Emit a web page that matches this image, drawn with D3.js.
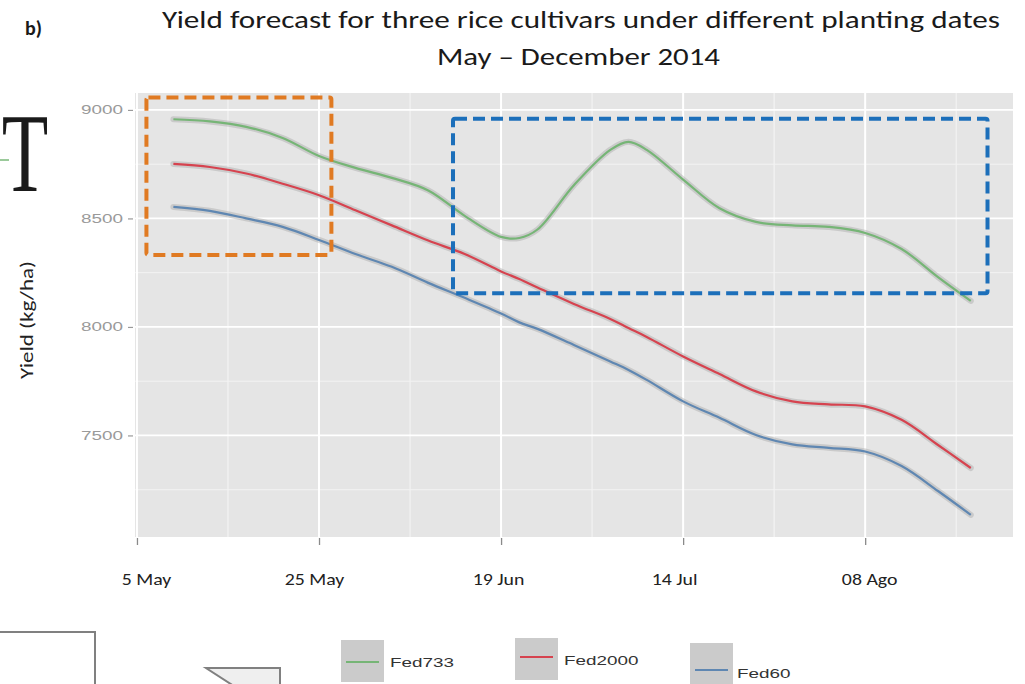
<!DOCTYPE html>
<html>
<head>
<meta charset="utf-8">
<script src="https://cdn.jsdelivr.net/npm/d3@7"></script>
<style>
  html, body { margin: 0; padding: 0; background: #ffffff; }
  svg { display: block; }
</style>
</head>
<body>
<svg id="chart" width="1025" height="684"></svg>
<script>
// ---------------- DATA ----------------
const titleLine1 = "Yield forecast for three rice cultivars under different planting dates";
const titleLine2 = "May \u2013 December 2014";
const panelTag = "b)";
const yAxisTitle = "Yield (kg/ha)";

// planting position (days after first label, axis units)
const plantingDay = [5, 10, 15, 20, 25, 30, 35, 40, 45, 50, 52.5, 55, 60, 65, 67.5, 70, 75, 80, 85, 90, 95, 100, 105, 110, 114.5];
const fed733  = [8957, 8947, 8922, 8871, 8788, 8733, 8687, 8629, 8512, 8415, 8410, 8449, 8653, 8816, 8853, 8816, 8679, 8547, 8484, 8468, 8461, 8433, 8359, 8230, 8120];
const fed2000 = [8751, 8737, 8707, 8660, 8607, 8538, 8468, 8398, 8336, 8256, 8221, 8182, 8106, 8037, 7995, 7954, 7864, 7783, 7703, 7657, 7643, 7634, 7572, 7456, 7350];
const fed60   = [8553, 8535, 8500, 8461, 8401, 8336, 8277, 8203, 8134, 8062, 8021, 7991, 7917, 7841, 7802, 7756, 7657, 7581, 7502, 7459, 7443, 7426, 7359, 7244, 7134];

const seriesNames = ["Fed733", "Fed2000", "Fed60"];
const xTickDays = [0, 25, 50, 75, 100];
const xTickLabels = ["5 May", "25 May", "19 Jun", "14 Jul", "08 Ago"];
const yTickValues = [7500, 8000, 8500, 9000];

// highlighted regions (axis units)
const orangeBox = { x0: 1.3, x1: 26.7, y0: 8332, y1: 9057 };
const blueBox   = { x0: 43.4, x1: 116.8, y0: 8155, y1: 8959 };

// ---------------- STYLE / LAYOUT ----------------
const colors = { Fed733: "#76b576", Fed2000: "#d6434f", Fed60: "#5f87b2" };
const panel = { left: 135, right: 1013, top: 93, bottom: 537 };
const xLabelNudge = [9, -5, -3, -9, 4];
const legendLayout = [
  { kx: 341, ky: 640, ly: 662, tx: 390, ty: 667 },
  { kx: 515, ky: 638, ly: 657, tx: 564, ty: 665 },
  { kx: 690, ky: 643, ly: 670, tx: 737, ty: 678 }
];

const svg = d3.select("#chart");

const x = d3.scaleLinear().domain([-0.27, 120.3]).range([panel.left, panel.right]);
const y = d3.scaleLinear().domain([7032, 9078]).range([panel.bottom, panel.top]);

// panel background
svg.append("rect")
  .attr("x", panel.left).attr("y", panel.top)
  .attr("width", panel.right - panel.left).attr("height", panel.bottom - panel.top)
  .attr("fill", "#e5e5e5");

const grid = svg.append("g");
// minor grid
const yMinor = [7250, 7750, 8250, 8750];
const xMinor = [12.5, 37.5, 62.5, 87.5, 112.5];
grid.selectAll(".ymin").data(yMinor).join("line")
  .attr("x1", panel.left).attr("x2", panel.right)
  .attr("y1", d => y(d)).attr("y2", d => y(d))
  .attr("stroke", "#f3f3f3").attr("stroke-width", 1);
grid.selectAll(".xmin").data(xMinor).join("line")
  .attr("y1", panel.top).attr("y2", panel.bottom)
  .attr("x1", d => x(d)).attr("x2", d => x(d))
  .attr("stroke", "#f3f3f3").attr("stroke-width", 1.2);
// major grid
grid.selectAll(".ymaj").data(yTickValues).join("line")
  .attr("x1", panel.left).attr("x2", panel.right)
  .attr("y1", d => y(d)).attr("y2", d => y(d))
  .attr("stroke", "#ffffff").attr("stroke-width", 1.8);
grid.selectAll(".xmaj").data(xTickDays).join("line")
  .attr("y1", panel.top).attr("y2", panel.bottom)
  .attr("x1", d => x(d)).attr("x2", d => x(d))
  .attr("stroke", "#ffffff").attr("stroke-width", 2);

// lines
const seriesData = [fed733, fed2000, fed60].map((vals, i) => ({
  name: seriesNames[i],
  points: plantingDay.map((d, j) => ({ d: d, v: vals[j] }))
}));
const line = d3.line().x(p => x(p.d)).y(p => y(p.v)).curve(d3.curveCatmullRom.alpha(0.5));

const lines = svg.append("g");
lines.selectAll(".band").data(seriesData).join("path")
  .attr("d", s => line(s.points))
  .attr("fill", "none").attr("stroke", "#a9a9a9").attr("stroke-opacity", 0.45)
  .attr("stroke-width", 6).attr("stroke-linecap", "round");
lines.selectAll(".ln").data(seriesData).join("path")
  .attr("d", s => line(s.points))
  .attr("fill", "none").attr("stroke", s => colors[s.name])
  .attr("stroke-width", 2.2).attr("stroke-linejoin", "round");

// axes
const yAxis = svg.append("g").attr("transform", `translate(${panel.left - 2},0)`)
  .call(d3.axisLeft(y).tickValues(yTickValues).tickSize(5).tickPadding(5).tickFormat(d3.format("d")));
yAxis.select(".domain").remove();
yAxis.selectAll(".tick line").attr("stroke", "#9a9a9a").attr("stroke-width", 1.2);
yAxis.selectAll(".tick text")
  .attr("font-family", "'Liberation Sans', Arial, sans-serif")
  .attr("font-size", 12.5).attr("fill", "#9a9a9a")
  .attr("textLength", 42).attr("lengthAdjust", "spacingAndGlyphs");

const xAxis = svg.append("g").attr("transform", `translate(0,${panel.bottom + 1})`)
  .call(d3.axisBottom(x).tickValues(xTickDays).tickSize(7).tickFormat((d, i) => xTickLabels[i]));
xAxis.select(".domain").remove();
xAxis.selectAll(".tick line").attr("stroke", "#8a8a8a").attr("stroke-width", 1.3);
xAxis.selectAll(".tick text")
  .attr("font-family", "Calibri, Carlito, 'Open Sans', sans-serif")
  .attr("font-size", 16.5).attr("fill", "#222")
  .attr("dy", null).attr("y", 47)
  .attr("x", (d, i) => xLabelNudge[i])
  .each(function () {
    const w = this.getComputedTextLength();
    d3.select(this).attr("textLength", w * 1.2).attr("lengthAdjust", "spacingAndGlyphs");
  });

// annotation boxes
function dashedBox(b, color) {
  svg.append("rect")
    .attr("x", x(b.x0)).attr("y", y(b.y1))
    .attr("width", x(b.x1) - x(b.x0)).attr("height", y(b.y0) - y(b.y1))
    .attr("rx", 2)
    .attr("fill", "none").attr("stroke", color).attr("stroke-width", 4)
    .attr("stroke-dasharray", "12,6");
}
dashedBox(orangeBox, "#e07a22");
dashedBox(blueBox, "#1c6fba");

// titles
svg.append("text")
  .attr("x", 162).attr("y", 28)
  .attr("font-family", "Calibri, Carlito, 'Open Sans', sans-serif")
  .attr("font-size", 24).attr("fill", "#1a1a1a")
  .attr("textLength", 838).attr("lengthAdjust", "spacingAndGlyphs")
  .text(titleLine1);
svg.append("text")
  .attr("x", 437).attr("y", 65)
  .attr("font-family", "Calibri, Carlito, 'Open Sans', sans-serif")
  .attr("font-size", 24).attr("fill", "#1a1a1a")
  .attr("textLength", 283).attr("lengthAdjust", "spacingAndGlyphs")
  .text(titleLine2);
svg.append("text")
  .attr("x", 25).attr("y", 35)
  .attr("font-family", "Calibri, Carlito, 'Open Sans', sans-serif")
  .attr("font-size", 20).attr("font-weight", "bold").attr("fill", "#1a1a1a")
  .text(panelTag);

// y axis title
svg.append("text")
  .attr("transform", "translate(33,320) rotate(-90)")
  .attr("text-anchor", "middle")
  .attr("font-family", "Calibri, Carlito, 'Open Sans', sans-serif")
  .attr("font-size", 19).attr("fill", "#222")
  .attr("textLength", 118).attr("lengthAdjust", "spacingAndGlyphs")
  .text(yAxisTitle);

// legend
const legend = svg.append("g");
seriesNames.forEach((name, i) => {
  const L = legendLayout[i];
  legend.append("rect").attr("x", L.kx).attr("y", L.ky).attr("width", 43).attr("height", 42).attr("fill", "#cbcbcb");
  legend.append("line").attr("x1", L.kx + 5).attr("x2", L.kx + 38).attr("y1", L.ly).attr("y2", L.ly)
    .attr("stroke", colors[name]).attr("stroke-width", 2);
  const t = legend.append("text").attr("x", L.tx).attr("y", L.ty)
    .attr("font-family", "'Liberation Sans', Arial, sans-serif")
    .attr("font-size", 13).attr("fill", "#333").text(name);
  const w = t.node().getComputedTextLength();
  t.attr("textLength", w * 1.45).attr("lengthAdjust", "spacingAndGlyphs");
});

// stray fragments of neighbouring figures
svg.append("text")
  .attr("transform", "translate(25,191) scale(0.68,1)")
  .attr("text-anchor", "middle")
  .attr("font-family", "'Liberation Serif', 'DejaVu Serif', serif")
  .attr("font-size", 112).attr("fill", "#1a1a1a").text("T");
svg.append("line").attr("x1", 0).attr("x2", 9).attr("y1", 160).attr("y2", 160)
  .attr("stroke", "#7ab87a").attr("stroke-width", 1.5);
svg.append("path")
  .attr("d", "M-2,632 L95,632 L95,690")
  .attr("fill", "none").attr("stroke", "#808080").attr("stroke-width", 2);
svg.append("path")
  .attr("d", "M206,668 L280,668 L280,690 L240,690 Z")
  .attr("fill", "#efefef").attr("stroke", "#808080").attr("stroke-width", 2);
</script>
</body>
</html>
